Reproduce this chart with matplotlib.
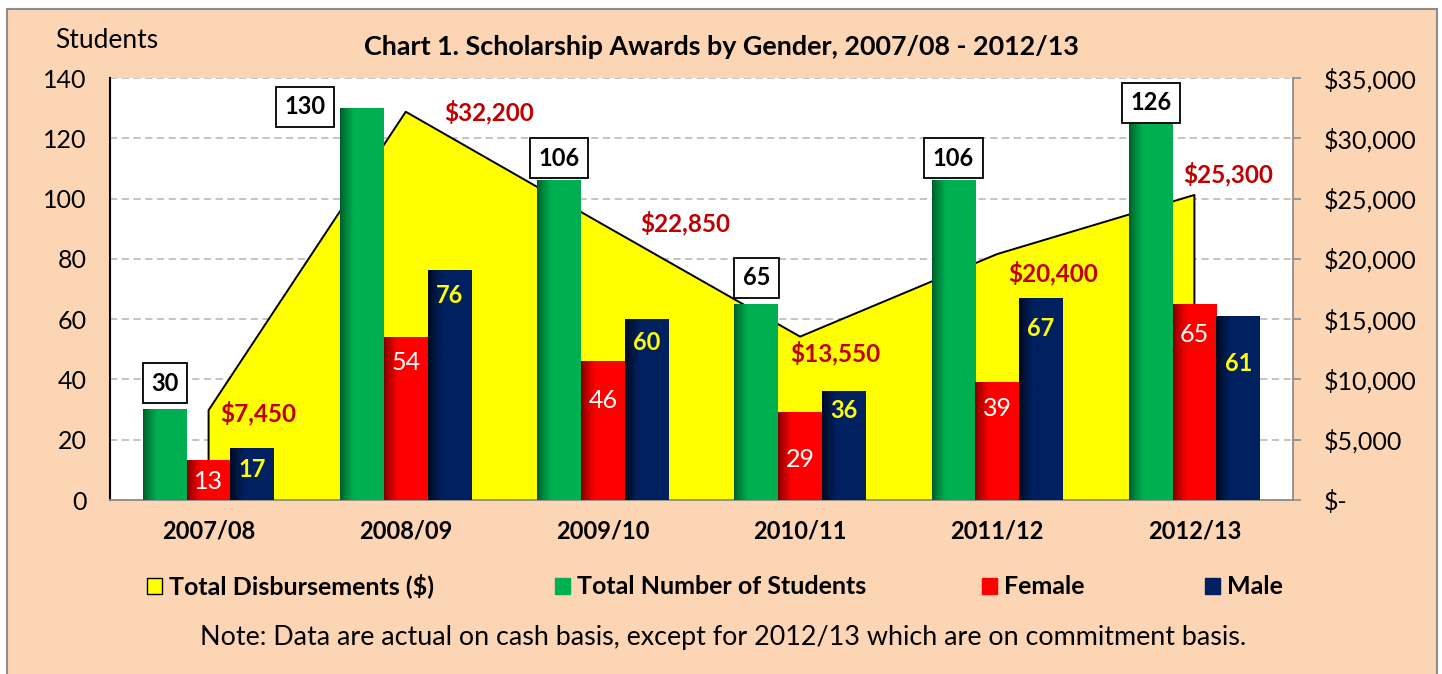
import numpy as np
import matplotlib
matplotlib.use("Agg")
import matplotlib.pyplot as plt
from matplotlib.patches import Rectangle
from matplotlib.ticker import FuncFormatter

# ---------------- data ----------------
years = ["2007/08", "2008/09", "2009/10", "2010/11", "2011/12", "2012/13"]
total_students = [30, 130, 106, 65, 106, 126]
female = [13, 54, 46, 29, 39, 65]
male = [17, 76, 60, 36, 67, 61]
disbursements = [7450, 32200, 22850, 13550, 20400, 25300]

title = "Chart 1. Scholarship Awards by Gender, 2007/08 - 2012/13"
note = "Note: Data are actual on cash basis, except for 2012/13 which are on commitment basis."

# ---------------- style ----------------
plt.rcParams['font.family'] = ['Lato', 'DejaVu Sans']
PEACH = '#FCD5B4'
GREEN, GREEN_D = '#00B050', '#005A28'
RED, RED_D = '#FF0000', '#7A0000'
NAVY, NAVY_D = '#002060', '#000818'
YELLOW = '#FFFF00'
DRED = '#C00000'
GRID = '#BFBFBF'

W, H = 1442, 674
fig = plt.figure(figsize=(W / 100, H / 100), dpi=100, facecolor='white')
fig.patches.append(Rectangle((7 / W, -0.02), 1430 / W, 1 - 9 / H + 0.02,
                             transform=fig.transFigure, facecolor=PEACH,
                             edgecolor='#8C8C8C', lw=1.5, zorder=-10))

left, right, top, bottom = 110 / W, 1293 / W, 1 - 78 / H, 1 - 500 / H
ax = fig.add_axes([left, bottom, right - left, top - bottom])
ax2 = ax.twinx()
ax2.set_zorder(1)
ax.set_zorder(2)
ax.patch.set_visible(False)
ax2.patch.set_visible(True)
ax2.patch.set_facecolor('white')

x = np.arange(len(years))
bw = 0.222

# ---- dollars layer (bottom): grid + area ----
ax2.set_ylim(0, 35000)
ax2.set_yticks(np.arange(0, 35001, 5000))
ax2.yaxis.set_major_formatter(FuncFormatter(lambda v, p: '$-' if v == 0 else f'${v:,.0f}'))
ax2.grid(axis='y', color=GRID, linestyle=(0, (4, 2.5)), lw=1.3)
ax2.set_axisbelow(True)
ax2.fill_between(x, disbursements, 0, color=YELLOW, lw=0, zorder=1)
ax2.plot(np.r_[x[0], x, x[-1]], np.r_[0, disbursements, 0], color='black', lw=1.4, zorder=2)
ax2.tick_params(axis='y', right=True, length=6, width=1.2, color='#8C8C8C',
                labelsize=18, pad=16, direction='out')
for s in ['left', 'top', 'bottom']:
    ax2.spines[s].set_visible(False)
ax2.spines['right'].set_color('#8C8C8C')
ax2.spines['right'].set_linewidth(1.3)

# ---- students layer (top): bars ----
def grad_bar(xc, h, color, dark):
    ax.bar(xc, h, bw, color=color, lw=0, zorder=3)
    n = 100
    t = np.linspace(0, 1, n)
    c1 = np.array(matplotlib.colors.to_rgb(dark))
    c2 = np.array(matplotlib.colors.to_rgb(color))
    f = np.clip(t / 0.32, 0, 1) ** 0.8
    img = (c1[None, :] * (1 - f[:, None]) + c2[None, :] * f[:, None])[None, :, :]
    ax.imshow(img, extent=(xc - bw / 2, xc + bw / 2, 0, h), aspect='auto',
              interpolation='bilinear', zorder=3.1)

for i in range(len(years)):
    grad_bar(x[i] - bw, total_students[i], GREEN, GREEN_D)
    grad_bar(x[i], female[i], RED, RED_D)
    grad_bar(x[i] + bw, male[i], NAVY, NAVY_D)

ax.set_xlim(-0.5, 5.5)
ax.set_ylim(0, 140)
ax.set_yticks(np.arange(0, 141, 20))
ax.set_xticks(x)
ax.set_xticklabels(years, fontsize=17, fontweight='bold')
ax.tick_params(axis='x', length=0, pad=14)
ax.tick_params(axis='y', length=0, labelsize=18, pad=17)
ax.spines['top'].set_visible(False)
ax.spines['right'].set_visible(False)
ax.spines['left'].set_color('black')
ax.spines['left'].set_linewidth(1.5)
ax.spines['bottom'].set_color('#8C8C8C')
ax.spines['bottom'].set_linewidth(1.3)

# ---- labels ----
box_off = [(0, 19), (-41, 1), (0, 16), (0, 19), (0, 16), (0, 12.5)]
for i, v in enumerate(total_students):
    ax.annotate(str(v), (x[i] - bw, v), xytext=box_off[i], textcoords='offset points',
                ha='center', va='center', fontsize=17, fontweight='bold', zorder=6,
                bbox=dict(boxstyle='square,pad=0.36', fc='white', ec='black', lw=1.3))

fem_off = [15, 18, 28, 34, 19, 22]
for i, v in enumerate(female):
    ax.annotate(str(v), (x[i], v), xytext=(0, -fem_off[i]), textcoords='offset points',
                ha='center', va='center', fontsize=18, color='white', zorder=6)

male_off = [15, 18, 17, 14, 22, 34]
for i, v in enumerate(male):
    ax.annotate(str(v), (x[i] + bw, v), xytext=(0, -male_off[i]), textcoords='offset points',
                ha='center', va='center', fontsize=17, color=YELLOW, fontweight='bold', zorder=6)

dol_off = [(36, -2), (60, 0), (59, 1), (25, -12), (40, -14), (24, 15)]
for i, v in enumerate(disbursements):
    ax.annotate(f'${v:,}', (x[i], v), xycoords=ax2.transData, xytext=dol_off[i],
                textcoords='offset points', ha='center', va='center', fontsize=17.5,
                color=DRED, fontweight='bold', zorder=6)

# ---- texts ----
fig.text(55 / W, 1 - 40 / H, 'Students', fontsize=19, ha='left', va='center')
fig.text(0.5, 1 - 47 / H, title, fontsize=19.4, fontweight='bold', ha='center', va='center')

legend_items = [("Total Disbursements ($)", YELLOW, 147),
                ("Total Number of Students", GREEN, 555),
                ("Female", RED, 982),
                ("Male", NAVY, 1205)]
ly = 586
for label, col, lx in legend_items:
    fig.patches.append(Rectangle((lx / W, 1 - (ly + 8) / H), 15 / W, 16 / H,
                                 transform=fig.transFigure, facecolor=col,
                                 edgecolor='black' if col == YELLOW else col, lw=1.0, zorder=2))
    fig.text((lx + 22) / W, 1 - ly / H, label, fontsize=18, fontweight='bold',
             ha='left', va='center')

fig.text(723 / W, 1 - 638 / H, note, fontsize=19.4, ha='center', va='center')

fig.savefig('out.png', dpi=100, facecolor=fig.get_facecolor())
